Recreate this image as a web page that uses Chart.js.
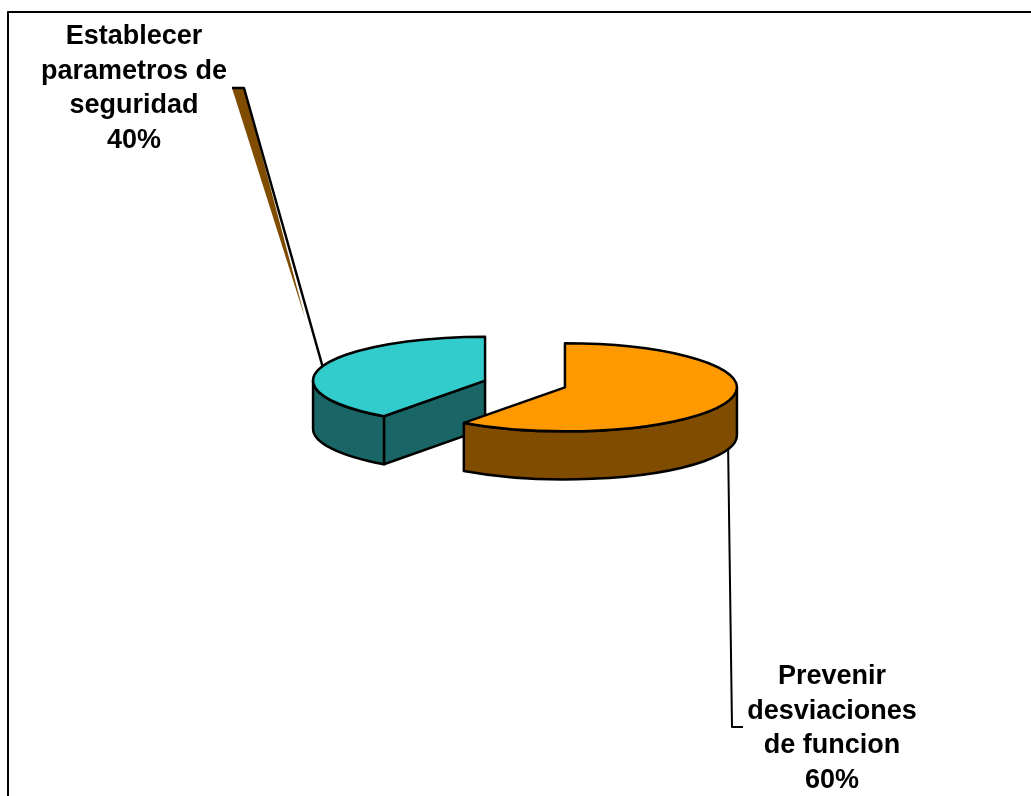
<!DOCTYPE html>
<html>
<head>
<meta charset="utf-8">
<title>Pie 3D</title>
<script src="https://cdn.jsdelivr.net/npm/chart.js@4"></script>
<style>
  html, body { margin: 0; padding: 0; background: #ffffff; overflow: hidden; }
  canvas { display: block; }
</style>
</head>
<body>
<canvas id="pie" width="1031" height="796"></canvas>
<script>
// Chart data
const categories = ['Prevenir desviaciones de funcion', 'Establecer parametros de seguridad'];
const values = [60, 40];
const topColors = ['#ff9900', '#33cccc'];
const sideColors = ['#804c00', '#1a6666'];

// Label text, broken the way the original wraps it
const labelLines = [
    ['Prevenir', 'desviaciones', 'de funcion'],
    ['Establecer', 'parametros de', 'seguridad']
];
const labelCenters = [832, 134];
const labelFirstBaselines = [684, 44];

const SQUASH = 0.256;
const DEPTH = 48;
const EXPLODE = 42;
const STROKE = 2.5;
const INK = '#000000';

function sliceGeometry(arc) {
    const mid = (arc.startAngle + arc.endAngle) / 2;
    return {
        dx: Math.cos(mid) * EXPLODE,
        dy: Math.sin(mid) * EXPLODE * SQUASH,
        cx: arc.x + Math.cos(mid) * EXPLODE,
        cy: arc.y + Math.sin(mid) * EXPLODE * SQUASH,
        rx: arc.outerRadius,
        ry: arc.outerRadius * SQUASH,
        start: arc.startAngle,
        end: arc.endAngle
    };
}

function pointOn(g, angle) {
    return { x: g.cx + Math.cos(angle) * g.rx, y: g.cy + Math.sin(angle) * g.ry };
}

function paintShape(ctx, fill) {
    ctx.fillStyle = fill;
    ctx.fill();
    ctx.stroke();
}

// Rim and cut faces that look towards the viewer
function drawWalls(ctx, g, fill) {
    // cut face on the start edge
    if (Math.sin(g.start - Math.PI / 2) > 0.001) {
        const p = pointOn(g, g.start);
        ctx.beginPath();
        ctx.moveTo(g.cx, g.cy);
        ctx.lineTo(p.x, p.y);
        ctx.lineTo(p.x, p.y + DEPTH);
        ctx.lineTo(g.cx, g.cy + DEPTH);
        ctx.closePath();
        paintShape(ctx, fill);
    }
    // outer rim, only the front half of the ellipse shows
    const from = Math.max(g.start, 0);
    const to = Math.min(g.end, Math.PI);
    if (to > from) {
        const a = pointOn(g, from);
        ctx.beginPath();
        ctx.moveTo(a.x, a.y);
        ctx.ellipse(g.cx, g.cy, g.rx, g.ry, 0, from, to);
        ctx.ellipse(g.cx, g.cy + DEPTH, g.rx, g.ry, 0, to, from, true);
        ctx.closePath();
        paintShape(ctx, fill);
    }
}

function drawFrame(ctx, chart) {
    // only left and top edges are inside the picture
    ctx.beginPath();
    ctx.moveTo(8, chart.height);
    ctx.lineTo(8, 12);
    ctx.lineTo(chart.width, 12);
    ctx.lineWidth = 2;
    ctx.stroke();
}

function drawLeaders(ctx) {
    // stray sliver under the upper leader line
    ctx.fillStyle = sideColors[0];
    ctx.beginPath();
    ctx.moveTo(232, 88);
    ctx.lineTo(244, 88);
    ctx.lineTo(305, 318);
    ctx.closePath();
    ctx.fill();

    ctx.lineWidth = 2.5;
    ctx.beginPath();
    ctx.moveTo(232, 88);
    ctx.lineTo(244, 88);
    ctx.lineTo(323, 368);
    ctx.stroke();

    ctx.lineWidth = 2;
    ctx.beginPath();
    ctx.moveTo(728, 440);
    ctx.lineTo(732, 727);
    ctx.lineTo(743, 727);
    ctx.stroke();
}

function drawLabels(ctx) {
    const total = values.reduce(function(a, b) { return a + b; }, 0);
    ctx.fillStyle = INK;
    ctx.font = 'bold 27px "Liberation Sans", Arial, sans-serif';
    ctx.textAlign = 'center';
    ctx.textBaseline = 'alphabetic';
    labelLines.forEach(function(lines, i) {
        const rows = lines.concat(Math.round(values[i] / total * 100) + '%');
        rows.forEach(function(row, r) {
            ctx.fillText(row, labelCenters[i], labelFirstBaselines[i] + r * 34.7);
        });
    });
}

const pie3d = {
    id: 'pie3d',
    beforeDatasetsDraw(chart) {
        const ctx = chart.ctx;
        const arcs = chart.getDatasetMeta(0).data;
        ctx.save();
        ctx.fillStyle = '#ffffff';
        ctx.fillRect(0, 0, chart.width, chart.height);
        ctx.strokeStyle = INK;
        ctx.lineJoin = 'round';

        drawFrame(ctx, chart);
        drawLeaders(ctx);

        ctx.lineWidth = STROKE;
        // back slice first so the front one covers it
        for (let i = arcs.length - 1; i >= 0; i--) {
            drawWalls(ctx, sliceGeometry(arcs[i]), sideColors[i]);
        }

        // the library's own arcs, flattened and pulled apart
        arcs.forEach(function(arc) {
            const g = sliceGeometry(arc);
            ctx.save();
            ctx.translate(g.dx, arc.y + g.dy);
            ctx.scale(1, SQUASH);
            ctx.translate(0, -arc.y);
            arc.draw(ctx);
            ctx.restore();
        });

        // outlines done here so the pen stays round after the squash
        arcs.forEach(function(arc) {
            const g = sliceGeometry(arc);
            ctx.beginPath();
            ctx.moveTo(g.cx, g.cy);
            ctx.ellipse(g.cx, g.cy, g.rx, g.ry, 0, g.start, g.end);
            ctx.closePath();
            ctx.stroke();
        });

        drawLabels(ctx);
        ctx.restore();
        // everything is painted, skip the default flat draw
        return false;
    }
};

new Chart(document.getElementById('pie'), {
    type: 'pie',
    data: {
        labels: categories,
        datasets: [{
            data: values,
            backgroundColor: topColors,
            borderWidth: 0,
            clip: false
        }]
    },
    options: {
        responsive: false,
        animation: false,
        radius: 172,
        // puts the pie centre at 525,384
        layout: { padding: { left: 19, right: 0, top: 0, bottom: 28 } },
        plugins: {
            legend: { display: false },
            tooltip: { enabled: false }
        }
    },
    plugins: [pie3d]
});
</script>
</body>
</html>
